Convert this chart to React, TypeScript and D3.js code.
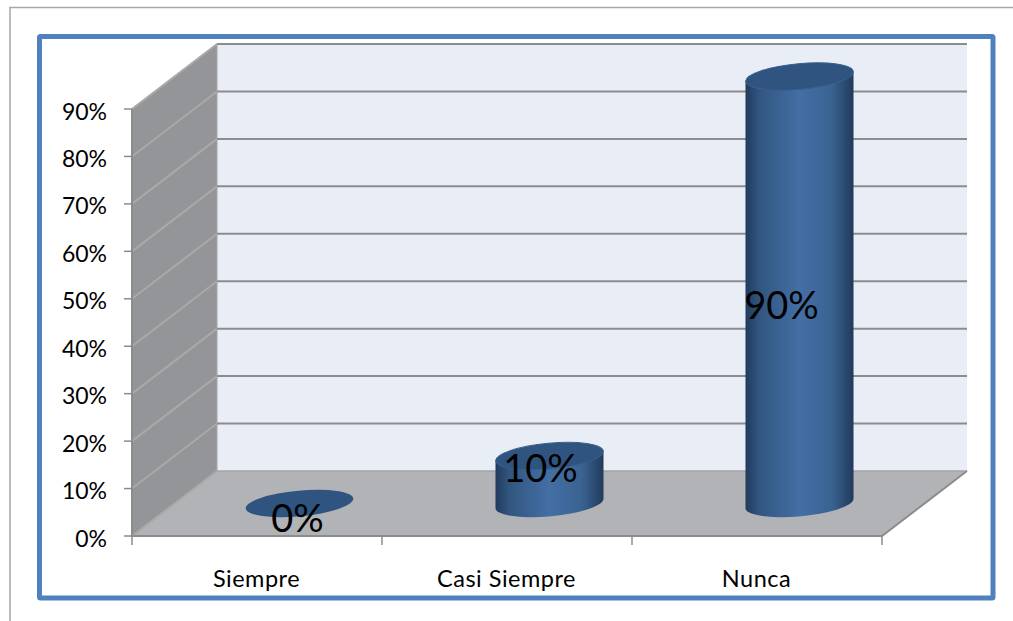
import * as d3 from 'd3'

const categories = ['Siempre', 'Casi Siempre', 'Nunca']
const values = [0, 0.1, 0.9]
const labels = ['0%', '10%', '90%']
const yTicks = [0, 0.1, 0.2, 0.3, 0.4, 0.5, 0.6, 0.7, 0.8, 0.9]

const width = 1013
const height = 621
const depthX = 85
const depthY = -65
const font = 'Lato, "Open Sans", sans-serif'

const x = d3.scaleBand<string>().domain(categories).range([132, 882])
const y = d3.scaleLinear().domain([0, 0.9]).range([536, 109])
const pct = d3.format('.0%')

const poly = d3.line<[number, number]>()

const App = () => {
  const [x0, x1] = x.range()
  const y0 = y(0)
  const yTop = y(0.9)
  const rx = 54
  const ry = 12.8
  const tilt = -5.2
  // how far the ellipse's ends sit above/below its centre, at the cylinder's sides
  const lean = 4.5

  return (
    <svg
      width={width}
      height={height}
      style={{ position: 'absolute', left: 0, top: 0, background: '#fff' }}
    >
      <defs>
        <linearGradient id="body" x1="0" x2="1" y1="0" y2="0">
          <stop offset="0" stopColor="#213a5c" />
          <stop offset="0.12" stopColor="#31557f" />
          <stop offset="0.5" stopColor="#446fa5" />
          <stop offset="0.8" stopColor="#3a6391" />
          <stop offset="1" stopColor="#213a5c" />
        </linearGradient>
      </defs>

      {/* page line and blue frame */}
      <path d={`M10,621V7.5H${width}`} fill="none" stroke="#a6a6a6" strokeWidth={1.5} />
      <rect x={39.5} y={36.5} width={953.5} height={561.5} rx={1} fill="#fff" stroke="#4f81bd" strokeWidth={5} />

      {/* walls */}
      <path
        d={poly([[x0 + depthX, y0 + depthY], [x1 + depthX, y0 + depthY], [x1 + depthX, yTop + depthY], [x0 + depthX, yTop + depthY]])! + 'Z'}
        fill="#e9edf6"
      />
      <path
        d={poly([[x0, y0], [x0 + depthX, y0 + depthY], [x0 + depthX, yTop + depthY], [x0, yTop]])! + 'Z'}
        fill="#939598"
        stroke="#a6a6a6"
        strokeWidth={1}
      />
      <path
        d={poly([[x0, y0], [x1, y0], [x1 + depthX, y0 + depthY], [x0 + depthX, y0 + depthY]])! + 'Z'}
        fill="#b1b3b6"
      />

      {/* gridlines */}
      {yTicks.map((t) => (
        <g key={t} fill="none">
          <path
            d={poly([[x0, y(t)], [x0 + depthX, y(t) + depthY]])!}
            stroke="#a9a9a9"
            strokeWidth={2}
          />
          <path
            d={poly([[x0 + depthX, y(t) + depthY], [x1 + depthX, y(t) + depthY]])!}
            stroke={t === 0 ? '#a3a3a3' : '#8c8c8c'}
            strokeWidth={t === 0 ? 1.5 : 2}
          />
        </g>
      ))}

      {/* axes */}
      <path
        d={poly([[x1 + depthX, y0 + depthY], [x1, y0], [x0, y0], [x0, yTop]])!}
        fill="none"
        stroke="#8c8c8c"
        strokeWidth={2}
      />
      {yTicks.map((t) => (
        <g key={t}>
          <line x1={x0 - 8} x2={x0} y1={y(t)} y2={y(t)} stroke="#8c8c8c" strokeWidth={1.5} />
          <text x={107} y={y(t) + 10.5} textAnchor="end" fontFamily={font} fontSize={23} fill="#000">
            {pct(t)}
          </text>
        </g>
      ))}
      {[...categories.map((c) => x(c)!), x1].map((p) => (
        <line key={p} x1={p} x2={p} y1={y0} y2={y0 + 9} stroke="#8c8c8c" strokeWidth={1.5} />
      ))}
      {categories.map((c) => (
        <text
          key={c}
          x={x(c)! + x.bandwidth() / 2 - 0.5}
          y={587}
          textAnchor="middle"
          fontFamily={font}
          fontSize={23.5}
          letterSpacing={0.5}
          fill="#000"
        >
          {c}
        </text>
      ))}

      {/* cylinders */}
      {categories.map((c, i) => {
        const cx = x(c)! + x.bandwidth() / 2 + depthX / 2
        const base = y0 + depthY / 2
        const top = base - (y0 - y(values[i]))
        const body =
          `M${cx - rx},${top + lean}` +
          `L${cx - rx},${base + lean}` +
          `A${rx},${ry} ${tilt} 0 0 ${cx + rx},${base - lean}` +
          `L${cx + rx},${top - lean}Z`
        return (
          <g key={c}>
            {values[i] > 0 && <path d={body} fill="url(#body)" />}
            <ellipse
              cx={cx}
              cy={top}
              rx={rx}
              ry={ry}
              transform={`rotate(${tilt} ${cx} ${top})`}
              fill="#2f5480"
              stroke={values[i] > 0 ? '#35608f' : 'none'}
              strokeWidth={1}
            />
          </g>
        )
      })}

      {/* data labels */}
      {categories.map((c, i) => {
        const cx = x(c)! + x.bandwidth() / 2 + depthX / 2
        return (
          <text
            key={c}
            x={[cx - 2, cx - 9, cx - 18][i]}
            y={[532, 482, 319][i]}
            textAnchor="middle"
            fontFamily={font}
            fontSize={38}
            fill="#000"
          >
            {labels[i]}
          </text>
        )
      })}
    </svg>
  )
}

export default App
